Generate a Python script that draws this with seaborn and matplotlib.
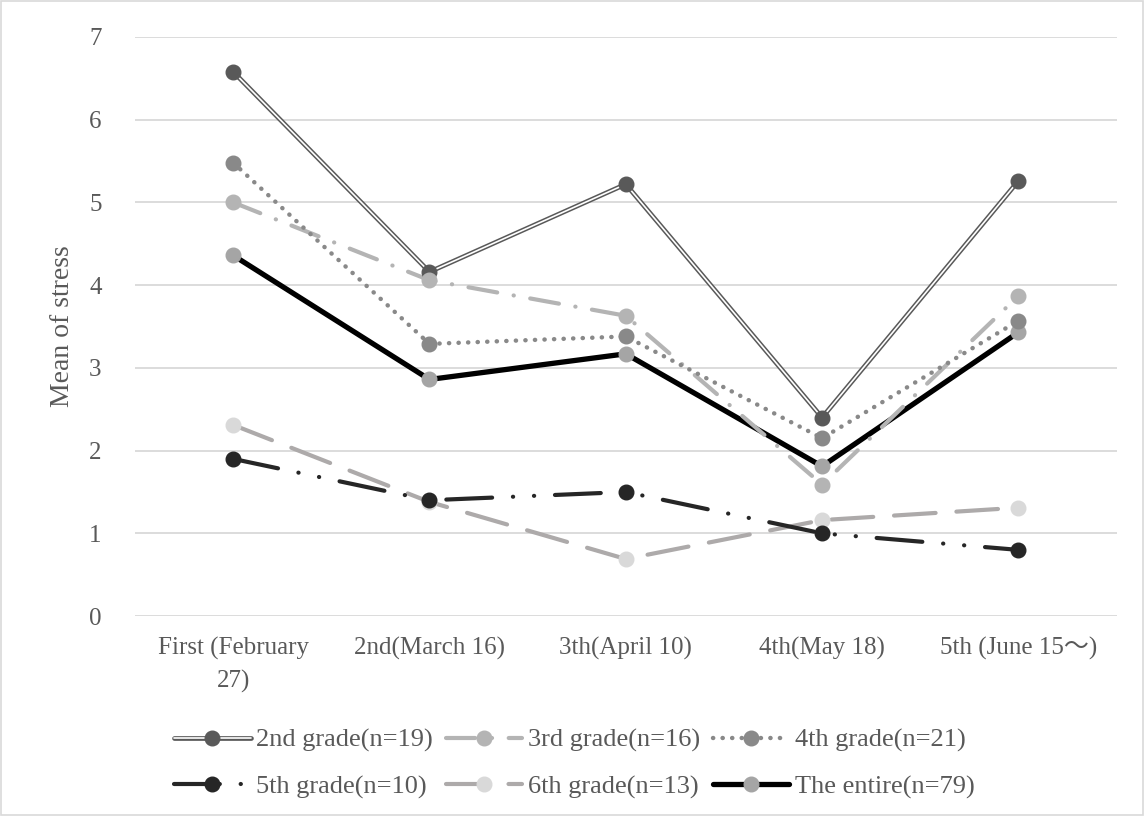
import matplotlib
matplotlib.use("Agg")
import matplotlib.pyplot as plt
from matplotlib.lines import Line2D
from matplotlib.legend_handler import HandlerTuple
import seaborn as sns
import pandas as pd

categories = ["First (February\n27)", "2nd(March 16)", "3th(April 10)", "4th(May 18)", "5th (June 15～)"]
grade2 = [6.58, 4.16, 5.22, 2.40, 5.26]
grade3 = [5.00, 4.06, 3.63, 1.59, 3.87]
grade4 = [5.48, 3.29, 3.38, 2.15, 3.57]
grade5 = [1.90, 1.40, 1.50, 1.00, 0.80]
grade6 = [2.31, 1.38, 0.69, 1.16, 1.31]
entire = [4.36, 2.86, 3.17, 1.81, 3.43]
series_names = ["2nd grade(n=19)", "3rd grade(n=16)", "4th grade(n=21)",
                "5th grade(n=10)", "6th grade(n=13)", "The entire(n=79)"]
yticks = [0, 1, 2, 3, 4, 5, 6, 7]

sns.set_theme(style="white")
plt.rcParams['font.family'] = ['Liberation Serif', 'Noto Sans CJK JP', 'DejaVu Sans']

fig = plt.figure(figsize=(11.44, 8.16), dpi=100)
ax = fig.add_axes([0.118, 0.245, 0.858, 0.7097])

x = list(range(len(categories)))
ms = 10.5

def draw(vals, color, lw, mcolor, dashes=None, z=3):
    sns.lineplot(x=x, y=vals, ax=ax, color=color, linewidth=lw, zorder=z, legend=False)
    ln = ax.lines[-1]
    ln.set_solid_capstyle('round')
    ln.set_dash_capstyle('round')
    if dashes is not None:
        ln.set_dashes(dashes)
    ax.plot(x, vals, linestyle='none', marker='o', markersize=ms,
            markerfacecolor=mcolor, markeredgecolor=mcolor, zorder=z + 0.5)
    return ln

# 6th grade (dashed)
draw(grade6, '#ADAAAA', 3.0, '#D9D9D9', dashes=(10, 5), z=3)
# 5th grade (long dash dot dot)
draw(grade5, '#262626', 3.0, '#262626', dashes=(11, 5, 0.05, 5, 0.05, 5), z=3.1)
# The entire (solid black)
draw(entire, '#000000', 3.8, '#A5A5A5', z=3.2)
# 3rd grade (long dash dot)
draw(grade3, '#B4B4B4', 3.0, '#B4B4B4', dashes=(7, 4, 0.05, 4), z=3.3)
# 4th grade (dotted)
draw(grade4, '#898989', 3.2, '#898989', dashes=(0.05, 2.1), z=3.4)
# 2nd grade (double line)
sns.lineplot(x=x, y=grade2, ax=ax, color='#595959', linewidth=3.4, zorder=3.5, legend=False)
sns.lineplot(x=x, y=grade2, ax=ax, color='#FFFFFF', linewidth=1.2, zorder=3.6, legend=False)
ax.plot(x, grade2, linestyle='none', marker='o', markersize=ms,
        markerfacecolor='#595959', markeredgecolor='#595959', zorder=3.7)

ax.set_xlim(-0.5, 4.5)
ax.set_ylim(0, 7)
ax.set_yticks(yticks)
ax.set_yticklabels([str(v) for v in yticks])
ax.set_xticks(x)
ax.set_xticklabels(categories, linespacing=1.55)
ax.grid(axis='y', color='#D9D9D9', linewidth=1.3, zorder=0)
ax.set_axisbelow(True)
for s in ax.spines.values():
    s.set_visible(False)
ax.tick_params(axis='both', length=0, labelsize=18, labelcolor='#595959')
ax.tick_params(axis='x', pad=15)
ax.tick_params(axis='y', pad=24)
ax.set_ylabel("Mean of stress", fontsize=20, color='#595959', labelpad=10)

def h(color, lw, mcolor, dashes=None):
    l = Line2D([], [], color=color, linewidth=lw, marker='o', markersize=ms,
               markerfacecolor=mcolor, markeredgecolor=mcolor,
               dash_capstyle='round', solid_capstyle='round')
    if dashes is not None:
        l.set_dashes(dashes)
    return l

h2 = (Line2D([], [], color='#595959', linewidth=3.4),
      Line2D([], [], color='#FFFFFF', linewidth=1.2),
      Line2D([], [], linestyle='none', marker='o', markersize=ms,
             markerfacecolor='#595959', markeredgecolor='#595959'))
handles = [h2,
           h('#B4B4B4', 3.0, '#B4B4B4', (7, 4, 0.05, 4)),
           h('#898989', 3.2, '#898989', (0.05, 2.1)),
           h('#262626', 3.0, '#262626', (11, 5, 0.05, 5, 0.05, 5)),
           h('#ADAAAA', 3.0, '#D9D9D9', (10, 5)),
           h('#000000', 3.8, '#A5A5A5')]
order = [0, 3, 1, 4, 2, 5]
leg = fig.legend([handles[i] for i in order], [series_names[i] for i in order],
                 loc='center', bbox_to_anchor=(0.502, 0.0643), ncol=3, frameon=False,
                 fontsize=19, labelcolor='#595959', handlelength=2.9,
                 handletextpad=0.2, columnspacing=0.5, labelspacing=0.85,
                 numpoints=1, handler_map={tuple: HandlerTuple(ndivide=1)})

fig.patches.append(plt.Rectangle((0.001, 0.001), 0.998, 0.998, transform=fig.transFigure,
                                 fill=False, edgecolor='#D9D9D9', linewidth=1.2))

fig.savefig("out.png", dpi=100)
